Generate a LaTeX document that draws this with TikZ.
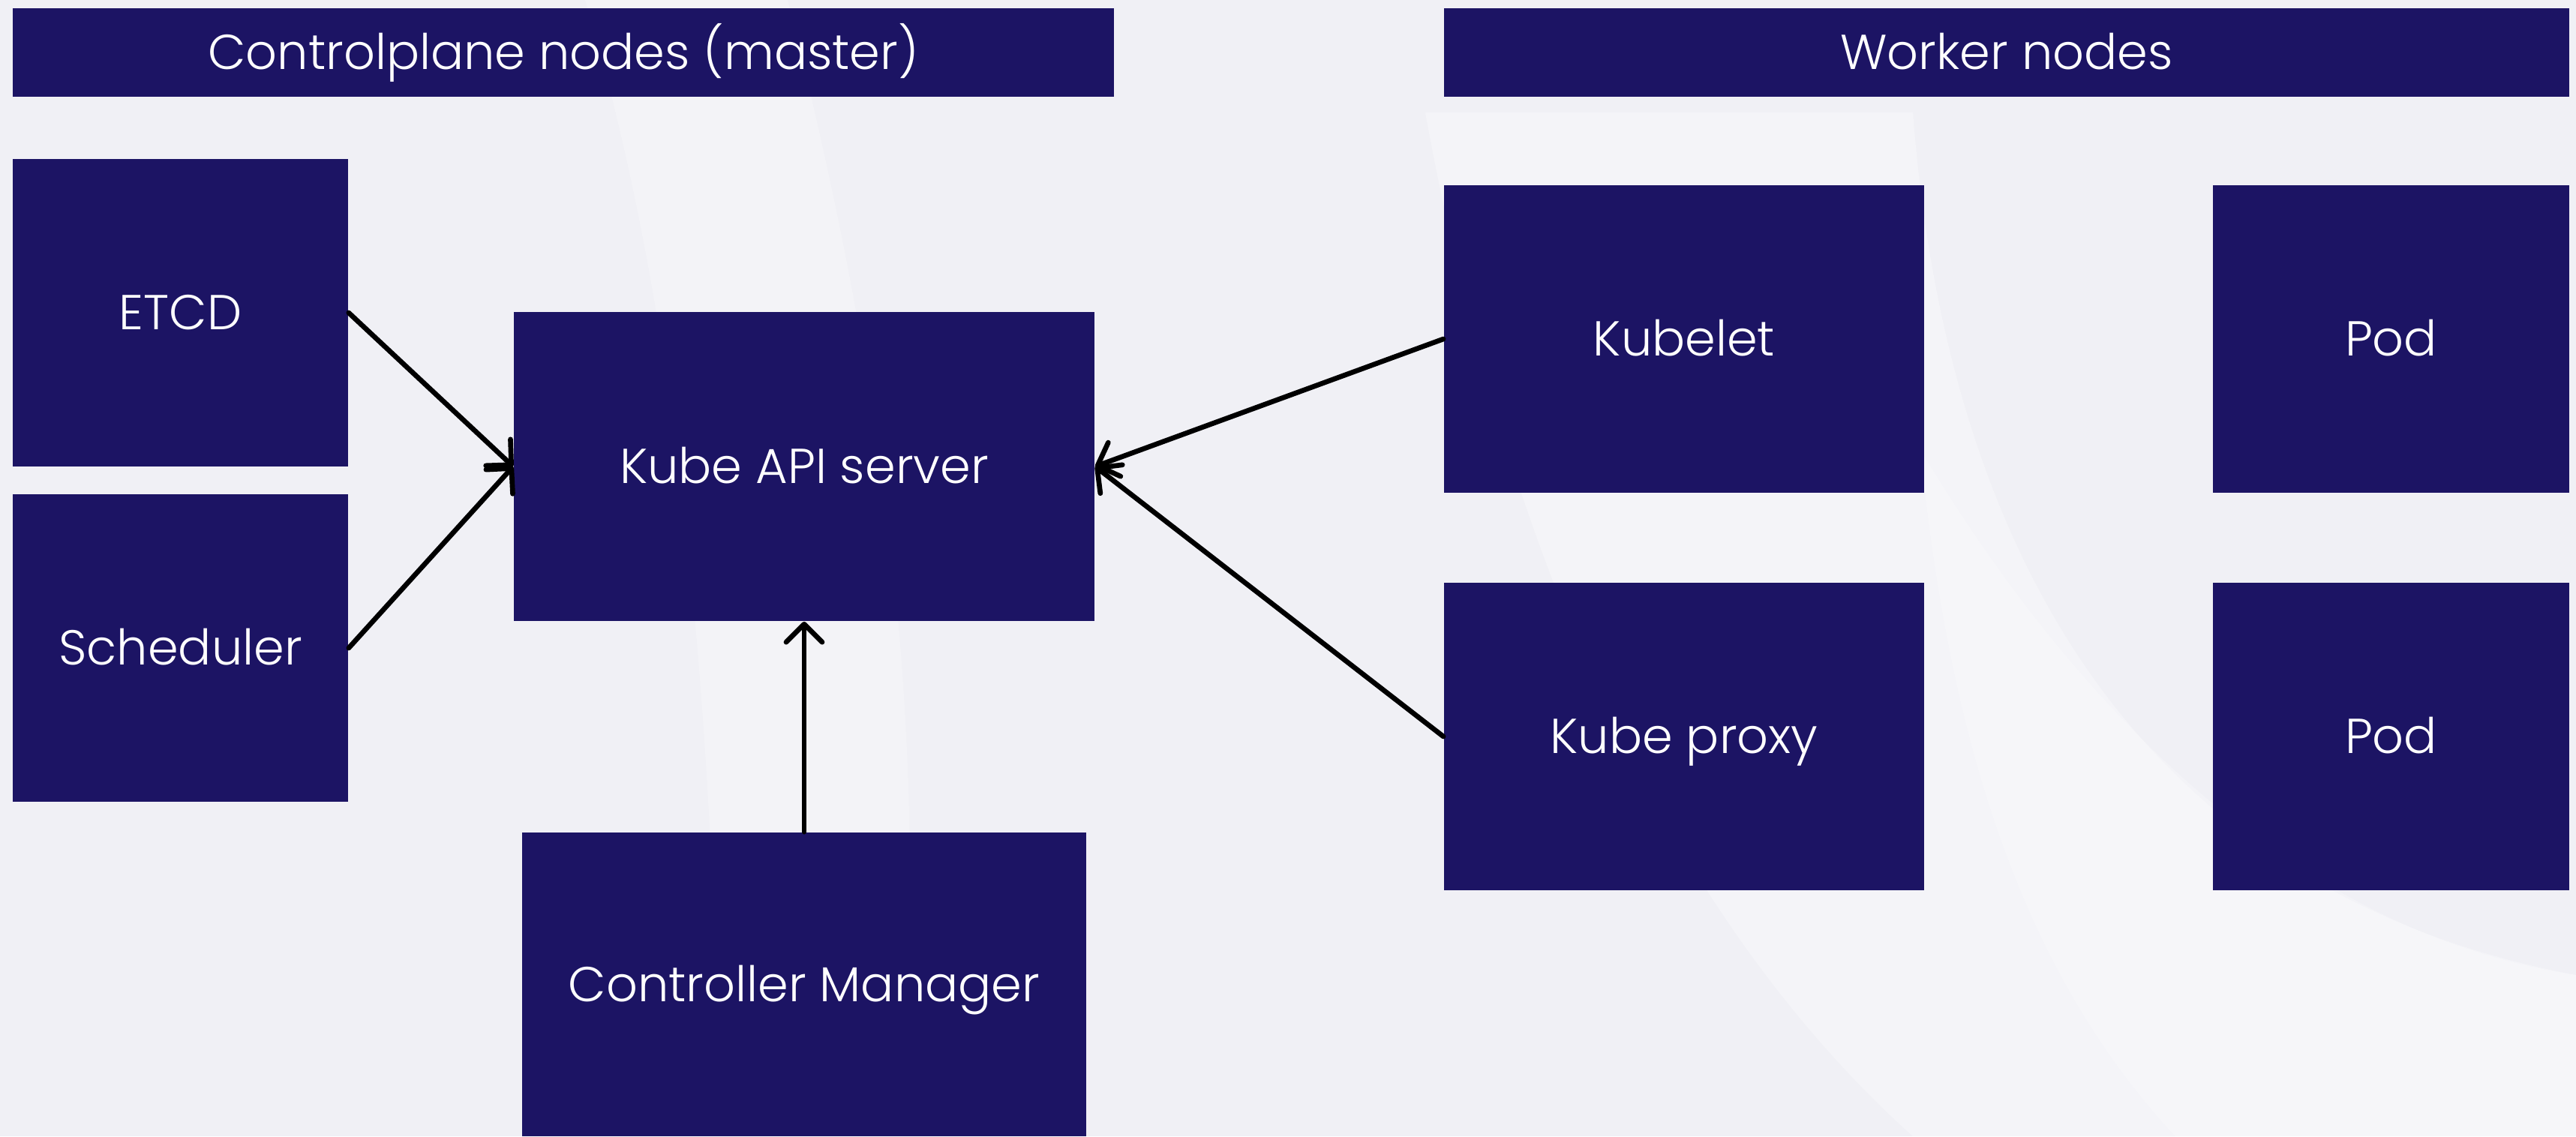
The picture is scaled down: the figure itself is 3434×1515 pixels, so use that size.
\documentclass[tikz,border=0pt]{standalone}
\usepackage{fontspec}
\setmainfont{Poppins}[UprightFont=* Light]
\usetikzlibrary{arrows.meta}
\definecolor{navy}{HTML}{1C1464}
\definecolor{bgc}{HTML}{F0F0F5}
\tikzset{
  box/.style={fill=navy, text=white, inner sep=0pt, text height=13pt, text depth=0pt,
    font=\fontsize{18.6}{22}\selectfont},
  conn/.style={draw=black, line width=1.9pt, line cap=round,
    -{Straight Barb[length=0.24cm, width=0.48cm, round]}},
}
\begin{document}
\begin{tikzpicture}[x=0.01cm, y=-0.01cm]
\useasboundingbox (0,0) rectangle (3434,1515);
\fill[bgc] (0,0) rectangle (3434,1515);
% subtle background swooshes
\begin{scope}
\clip (0,0) rectangle (3434,1515);
\fill[white, opacity=0.25] (780,0) .. controls (900,400) and (950,900) .. (960,1515) -- (1200,1515) .. controls (1250,900) and (1150,400) .. (1050,0) -- cycle;
\fill[white, opacity=0.3] (1900,150) .. controls (2000,700) and (2200,1200) .. (2550,1515) -- (3434,1515) -- (3434,1300) .. controls (2900,1200) and (2600,800) .. (2550,150) -- cycle;
\fill[white, opacity=0.25] (2560,600) .. controls (2800,1000) and (3100,1250) .. (3434,1300) -- (3434,1515) -- (2900,1515) .. controls (2700,1300) and (2600,1000) .. (2560,600) -- cycle;
\end{scope}
% headers
\node[box, minimum width=14.68cm, minimum height=1.18cm] (h1) at (751,70) {Controlplane nodes (master)};
\node[box, minimum width=15.00cm, minimum height=1.18cm] (h2) at (2675,70) {Worker nodes};
% control plane
\node[box, minimum width=4.47cm, minimum height=4.10cm] (etcd) at (240.5,417) {ETCD};
\node[box, minimum width=4.47cm, minimum height=4.10cm] (sched) at (240.5,864) {Scheduler};
\node[box, minimum width=7.74cm, minimum height=4.12cm] (api) at (1072,622) {Kube API server};
\node[box, minimum width=7.52cm, minimum height=4.05cm] (ctrl) at (1072,1312.5) {Controller Manager};
% worker
\node[box, minimum width=6.40cm, minimum height=4.10cm] (kubelet) at (2245,452) {Kubelet};
\node[box, minimum width=6.40cm, minimum height=4.10cm] (proxy) at (2245,982) {Kube proxy};
\node[box, minimum width=4.75cm, minimum height=4.10cm] (pod1) at (3187.5,452) {Pod};
\node[box, minimum width=4.75cm, minimum height=4.10cm] (pod2) at (3187.5,982) {Pod};
% connectors
\draw[conn] (etcd.east) -- (api.west);
\draw[conn] (sched.east) -- (api.west);
\draw[conn] (kubelet.west) -- (api.east);
\draw[conn] (proxy.west) -- (api.east);
\draw[conn] (ctrl.north) -- (api.south);
\end{tikzpicture}
\end{document}
